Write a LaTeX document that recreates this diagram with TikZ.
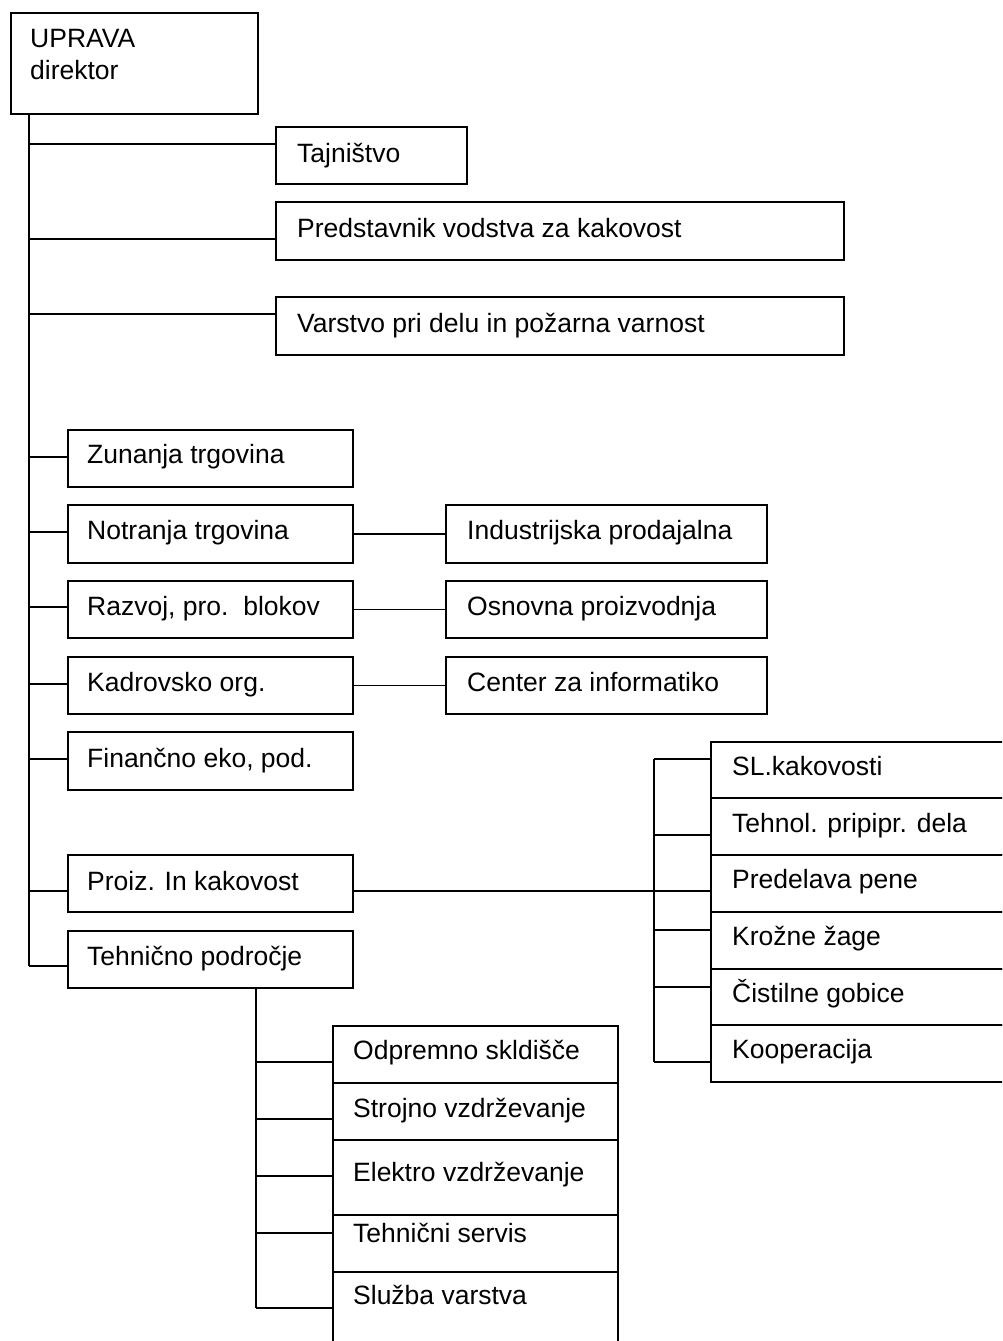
\documentclass[tikz,border=0pt]{standalone}
\usepackage{fontspec}
\setmainfont{Liberation Sans}
\tikzset{
  box/.style={draw, line width=1.6pt, anchor=north west, inner sep=0pt, fill=white},
  txt/.style={anchor=base west, inner sep=0pt, font=\fontsize{26.5}{32}\selectfont},
  conn/.style={line width=1.6pt}
}
\newcommand\obox[5]{\node[box, minimum width={(#4-#2)*1pt}, minimum height={(#5-#3)*1pt}] (#1) at (#2,#3) {};}
\newcommand\otext[4]{\node[txt] (#1) at (#2,#3) {#4};}
\begin{document}
\begin{tikzpicture}[x=1pt,y=-1pt]
\useasboundingbox (0,0) rectangle (1002,1341);
\clip (0,0) rectangle (1002,1341);
\fill[white] (0,0) rectangle (1002,1341);

% top
\obox{upr}{10}{12}{257}{113}
\otext{uprt}{30}{47}{UPRAVA}
\otext{dirt}{30}{79}{direktor}

\obox{taj}{275}{126}{466}{183}
\otext{tajt}{297}{162}{Tajništvo}
\obox{pre}{275}{201}{843}{259}
\otext{pret}{297}{237}{Predstavnik vodstva za kakovost}
\obox{var}{275}{296}{843}{354}
\otext{vart}{297}{332}{Varstvo pri delu in požarna varnost}

% left column
\obox{zun}{67}{429}{352}{486}
\otext{zunt}{87}{463}{Zunanja trgovina}
\obox{not}{67}{504}{352}{562}
\otext{nott}{87}{539}{Notranja trgovina}
\obox{raz}{67}{580}{352}{637}
\otext{razt}{87}{615}{Razvoj, pro.\ \ blokov}
\obox{kad}{67}{656}{352}{713}
\otext{kadt}{87}{691}{Kadrovsko org.}
\obox{fin}{67}{731}{352}{789}
\otext{fint}{87}{767}{Finančno eko, pod.}
\obox{pro}{67}{854}{352}{911}
\otext{prot}{87}{890}{Proiz. In kakovost}
\obox{teh}{67}{930}{352}{987}
\otext{teht}{87}{965}{Tehnično področje}

% middle column
\obox{ind}{445}{504}{766}{562}
\otext{indt}{467}{539}{Industrijska prodajalna}
\obox{osn}{445}{580}{766}{637}
\otext{osnt}{467}{615}{Osnovna proizvodnja}
\obox{cen}{445}{656}{766}{713}
\otext{cent}{467}{691}{Center za informatiko}

% right column
\obox{slk}{710}{741}{1015}{797}
\otext{slkt}{732}{775}{SL.kakovosti}
\obox{tpd}{710}{797}{1015}{854}
\otext{tpdt}{732}{832}{Tehnol. pripipr. dela}
\obox{pdp}{710}{854}{1015}{911}
\otext{pdpt}{732}{888}{Predelava pene}
\obox{kzg}{710}{911}{1015}{968}
\otext{kzgt}{732}{945}{Krožne žage}
\obox{cgb}{710}{968}{1015}{1024}
\otext{cgbt}{732}{1002}{Čistilne gobice}
\obox{koo}{710}{1024}{1015}{1081}
\otext{koot}{732}{1058}{Kooperacija}

% bottom column
\obox{ods}{332}{1025}{617}{1082}
\otext{odst}{353}{1059}{Odpremno skldišče}
\obox{stv}{332}{1082}{617}{1139}
\otext{stvt}{353}{1117}{Strojno vzdrževanje}
\obox{elv}{332}{1139}{617}{1214}
\otext{elvt}{353}{1181}{Elektro vzdrževanje}
\obox{tsv}{332}{1214}{617}{1271}
\otext{tsvt}{353}{1242}{Tehnični servis}
\obox{slv}{332}{1271}{617}{1370}
\otext{slvt}{353}{1304}{Služba varstva}

% trunk junctions
\coordinate (j1) at (29,144);
\coordinate (j2) at (29,239);
\coordinate (j3) at (29,314);
\coordinate (j4) at (29,457);
\coordinate (j5) at (29,532);
\coordinate (j6) at (29,607);
\coordinate (j7) at (29,684);
\coordinate (j8) at (29,759);
\coordinate (j9) at (29,891);
\coordinate (j10) at (29,966);

\draw[conn] (upr.south west -| j1) -- (j10);
\draw[conn] (j1) -- (j1 -| taj.west);
\draw[conn] (j2) -- (j2 -| pre.west);
\draw[conn] (j3) -- (j3 -| var.west);
\draw[conn] (j4) -- (j4 -| zun.west);
\draw[conn] (j5) -- (j5 -| not.west);
\draw[conn] (j6) -- (j6 -| raz.west);
\draw[conn] (j7) -- (j7 -| kad.west);
\draw[conn] (j8) -- (j8 -| fin.west);
\draw[conn] (j9) -- (j9 -| pro.west);
\draw[conn] (j10) -- (j10 -| teh.west);

% cross links
\draw[conn] (not.east) -- (ind.west);
\draw[conn] (raz.east) -- (osn.west);
\draw[conn] (kad.east) -- (cen.west);

% right bracket
\coordinate (k1) at (654,759);
\coordinate (k2) at (654,835);
\coordinate (k3) at (654,891);
\coordinate (k4) at (654,930);
\coordinate (k5) at (654,987);
\coordinate (k6) at (654,1062);
\draw[conn] (k3 -| pro.east) -- (k3);
\draw[conn] (k1) -- (k6);
\draw[conn] (k1) -- (k1 -| slk.west);
\draw[conn] (k2) -- (k2 -| tpd.west);
\draw[conn] (k3) -- (k3 -| pdp.west);
\draw[conn] (k4) -- (k4 -| kzg.west);
\draw[conn] (k5) -- (k5 -| cgb.west);
\draw[conn] (k6) -- (k6 -| koo.west);

% bottom bracket
\coordinate (m1) at (256,1062);
\coordinate (m2) at (256,1119);
\coordinate (m3) at (256,1176);
\coordinate (m4) at (256,1233);
\coordinate (m5) at (256,1308);
\draw[conn] (teh.south west -| m1) -- (m5);
\draw[conn] (m1) -- (m1 -| ods.west);
\draw[conn] (m2) -- (m2 -| stv.west);
\draw[conn] (m3) -- (m3 -| elv.west);
\draw[conn] (m4) -- (m4 -| tsv.west);
\draw[conn] (m5) -- (m5 -| slv.west);
\end{tikzpicture}
\end{document}
